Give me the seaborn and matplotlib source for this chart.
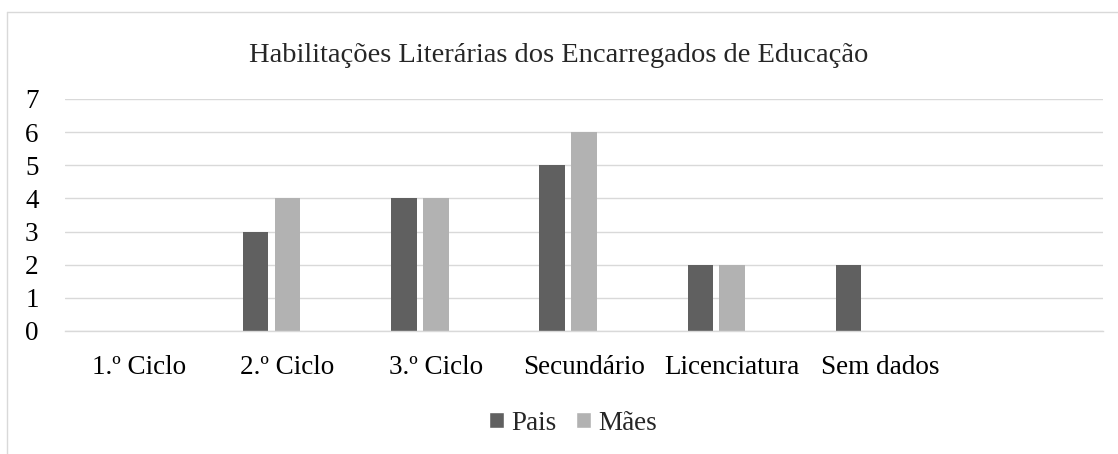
import pandas as pd
import matplotlib
matplotlib.use("Agg")
import matplotlib.pyplot as plt
from matplotlib.lines import Line2D
from matplotlib.patches import Patch
import seaborn as sns

# data
categories = ['1.º Ciclo', '2.º Ciclo', '3.º Ciclo', 'Secundário', 'Licenciatura', 'Sem dados', '']
pais = [0, 3, 4, 5, 2, 2]
maes = [0, 4, 4, 6, 2, 0]
series = ['Pais', 'Mães', ' ']  # third slot is an empty series in the original sheet
colors = {'Pais': '#606060', 'Mães': '#b2b2b2', ' ': '#ffffff'}

df = pd.DataFrame({
    'categoria': categories[:6] * 2,
    'serie': ['Pais'] * 6 + ['Mães'] * 6,
    'valor': pais + maes,
})

sns.set_theme(style='white')
plt.rcParams['font.family'] = ['Liberation Serif', 'DejaVu Serif']

W, H = 1118, 454
fig = plt.figure(figsize=(W / 100, H / 100), dpi=100)
ax = fig.add_axes([65 / W, 1 - 331 / H, (1103 - 65) / W, (331 - 99) / H])

sns.barplot(data=df, x='categoria', y='valor', hue='serie',
            order=categories, hue_order=series, palette=colors,
            width=0.647, gap=0.2, linewidth=0, errorbar=None,
            legend=False, ax=ax)

ax.set_ylim(0, 7)
ax.set_yticks(range(0, 8))
ax.set_xlim(-0.5, len(categories) - 0.5)
ax.yaxis.grid(True, color='#d9d9d9', linewidth=1.0)
ax.set_axisbelow(True)
for side in ['top', 'right', 'left']:
    ax.spines[side].set_visible(False)
ax.spines['bottom'].set_color('#d9d9d9')
ax.spines['bottom'].set_linewidth(1.0)
ax.tick_params(axis='y', length=0, pad=19, labelsize=19.5, colors='black')
ax.tick_params(axis='x', length=0, pad=17, labelsize=19.5, colors='black')
ax.set_xlabel('')
ax.set_ylabel('')

fig.text(0.5, 1 - 56 / H, 'Habilitações Literárias dos Encarregados de Educação',
         ha='center', va='center', fontsize=20.5)

handles = [Patch(facecolor=colors['Pais'], label='Pais'),
           Patch(facecolor=colors['Mães'], label='Mães')]
fig.legend(handles=handles, loc='center', bbox_to_anchor=(573 / W, 1 - 423 / H),
           ncol=2, frameon=False, fontsize=19.5, handlelength=0.55,
           handleheight=0.55, handletextpad=0.25, columnspacing=0.75)

# chart area border (top and left edges visible in the crop)
fig.add_artist(Line2D([7 / W, 1], [1 - 12 / H, 1 - 12 / H], color='#d9d9d9', linewidth=1.0))
fig.add_artist(Line2D([7 / W, 7 / W], [0, 1 - 12 / H], color='#d9d9d9', linewidth=1.0))

fig.savefig('out.png', dpi=100, facecolor='white')
plt.close(fig)
